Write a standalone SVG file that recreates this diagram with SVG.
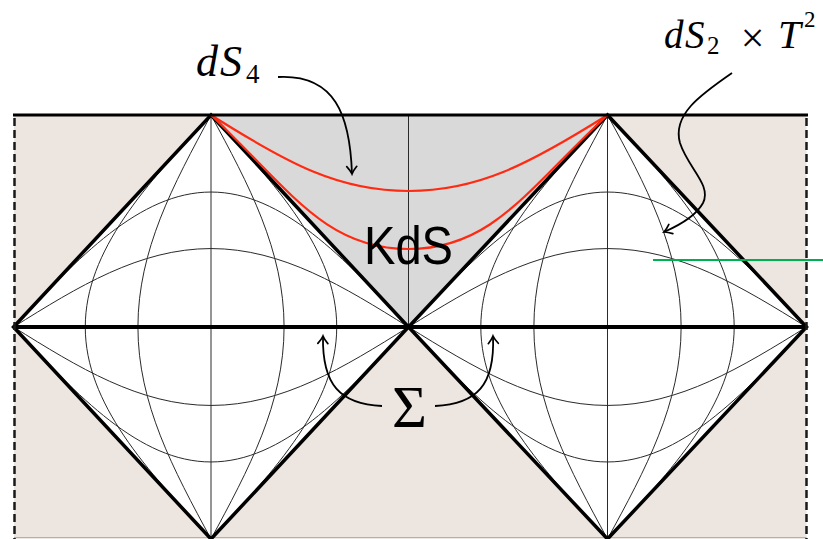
<svg xmlns="http://www.w3.org/2000/svg" width="823" height="539" viewBox="0 0 823 539">
<defs>
<style>
.grid{fill:none;stroke:#2a2a2a;stroke-width:1}
.edge{fill:none;stroke:#000;stroke-width:3.5;stroke-linejoin:miter}
.red{fill:none;stroke:#ff2a12;stroke-width:2.2}
.arr{fill:none;stroke:#000;stroke-width:1.8;marker-end:url(#ah)}
.dash{fill:none;stroke:#1a1a1a;stroke-width:2.5;stroke-dasharray:8 4}
</style>
<marker id="ah" viewBox="-10 -7 12 14" refX="0" refY="0" markerWidth="12" markerHeight="14" markerUnits="userSpaceOnUse" orient="auto">
<path d="M-7.5,-5 Q-3,-1.2 0,0 Q-3,1.2 -7.5,5" fill="none" stroke="#000" stroke-width="1.7" stroke-linecap="round"/>
</marker>
</defs>
<rect width="823" height="539" fill="#fff"/>
<g id="background">
<rect x="14" y="115" width="792.5" height="424" fill="#ede5df"/>
<line x1="14" y1="537.5" x2="806.5" y2="537.5" stroke="#b5b0ac" stroke-width="1"/>
</g>
<g id="kds-region">
<polygon points="211,115 607.5,115 408.5,327" fill="#d9d9d9"/>
<line x1="408.5" y1="115" x2="408.5" y2="327" class="grid"/>
</g>
<g id="left-diamond">
<polygon points="211,115 408.5,327 211,539 13.5,327" fill="#fff"/>
<line x1="211" y1="115" x2="211" y2="539" class="grid"/>
<path class="grid" d="M211,115 C173.56,184.14 137.92,250.27 137.92,327 C137.92,403.73 173.56,469.86 211,539"/>
<path class="grid" d="M211,115 C248.44,184.14 284.08,250.27 284.08,327 C284.08,403.73 248.44,469.86 211,539"/>
<path class="grid" d="M211,115 C146.59,184.14 85.27,250.27 85.27,327 C85.27,403.73 146.59,469.86 211,539"/>
<path class="grid" d="M211,115 C275.41,184.14 336.73,250.27 336.73,327 C336.73,403.73 275.41,469.86 211,539"/>
<path class="grid" d="M13.5,327 C77.91,286.82 139.52,248.56 211,248.56 C282.48,248.56 344.09,286.82 408.5,327"/>
<path class="grid" d="M13.5,327 C77.91,367.18 139.52,405.44 211,405.44 C282.48,405.44 344.09,367.18 408.5,327"/>
<path class="grid" d="M13.5,327 C77.91,257.86 139.52,192.04 211,192.04 C282.48,192.04 344.09,257.86 408.5,327"/>
<path class="grid" d="M13.5,327 C77.91,396.14 139.52,461.96 211,461.96 C282.48,461.96 344.09,396.14 408.5,327"/>
<polygon class="edge" points="211,115 408.5,327 211,539 13.5,327"/>
</g>
<g id="right-diamond">
<polygon points="607.5,115 806.5,327 607.5,539 408.5,327" fill="#fff"/>
<line x1="607.5" y1="115" x2="607.5" y2="539" class="grid"/>
<path class="grid" d="M607.5,115 C569.78,184.14 533.87,250.27 533.87,327 C533.87,403.73 569.78,469.86 607.5,539"/>
<path class="grid" d="M607.5,115 C645.22,184.14 681.13,250.27 681.13,327 C681.13,403.73 645.22,469.86 607.5,539"/>
<path class="grid" d="M607.5,115 C542.6,184.14 480.81,250.27 480.81,327 C480.81,403.73 542.6,469.86 607.5,539"/>
<path class="grid" d="M607.5,115 C672.4,184.14 734.19,250.27 734.19,327 C734.19,403.73 672.4,469.86 607.5,539"/>
<path class="grid" d="M408.5,327 C473.4,286.82 535.48,248.56 607.5,248.56 C679.52,248.56 741.6,286.82 806.5,327"/>
<path class="grid" d="M408.5,327 C473.4,367.18 535.48,405.44 607.5,405.44 C679.52,405.44 741.6,367.18 806.5,327"/>
<path class="grid" d="M408.5,327 C473.4,257.86 535.48,192.04 607.5,192.04 C679.52,192.04 741.6,257.86 806.5,327"/>
<path class="grid" d="M408.5,327 C473.4,396.14 535.48,461.96 607.5,461.96 C679.52,461.96 741.6,396.14 806.5,327"/>
<polygon class="edge" points="607.5,115 806.5,327 607.5,539 408.5,327"/>
</g>
<g id="red-slices">
<path class="red" d="M211,115 C290,165 340,191 408.5,191 C477,191 528,165 607.5,115"/>
<path class="red" d="M211,115 C290,190 325,249 408.5,249 C492,249 527,190 607.5,115"/>
</g>
<g id="frame">
<line x1="13" y1="327" x2="807" y2="327" stroke="#000" stroke-width="4.2"/>
<line x1="13" y1="115" x2="808" y2="115" stroke="#000" stroke-width="3"/>
<line class="dash" x1="14.5" y1="118" x2="14.5" y2="539"/>
<line class="dash" x1="806.5" y1="118" x2="806.5" y2="539"/>
</g>
<g id="green-line">
<line x1="653" y1="260" x2="823" y2="260" stroke="#00b050" stroke-width="2"/>
</g>
<g id="label-kds">
<text x="364" y="264" font-family="'Liberation Sans', Arial, sans-serif" font-size="53" textLength="89" lengthAdjust="spacingAndGlyphs" fill="#000">KdS</text>
</g>
<g id="label-ds4" font-family="'Liberation Serif', 'Times New Roman', serif" fill="#000">
<text font-style="italic" y="76" font-size="44"><tspan x="196">d</tspan><tspan x="220">S</tspan></text>
<text x="246" y="83" font-size="27">4</text>
</g>
<g id="label-ds2t2" font-family="'Liberation Serif', 'Times New Roman', serif" fill="#000">
<text font-style="italic" y="48" font-size="39"><tspan x="664">d</tspan><tspan x="685">S</tspan></text>
<text x="707" y="54" font-size="25">2</text>
<text x="752.5" y="52" font-size="42" text-anchor="middle">×</text>
<text font-style="italic" x="778" y="48" font-size="41">T</text>
<text x="804" y="27" font-size="23">2</text>
</g>
<g id="label-sigma" font-family="'Liberation Serif', 'Times New Roman', serif" fill="#000">
<text x="409.5" y="427" font-size="60" text-anchor="middle">Σ</text>
</g>
<g id="connectors">
<path class="arr" d="M278,77 C335,74 350,115 352,174"/>
<path class="arr" d="M732,73 C700,95 672,115 680,143 C688,168 712,185 703,203 C696,216 680,225 664,232"/>
<path class="arr" d="M382,406 C340,404 322,385 323,336"/>
<path class="arr" d="M435,406 C477,404 495,385 493,336"/>
</g>
</svg>
